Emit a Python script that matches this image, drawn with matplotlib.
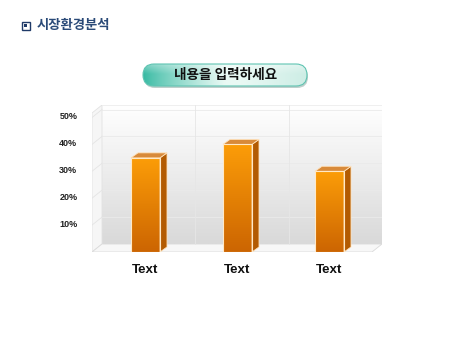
import numpy as np
import matplotlib
matplotlib.use("Agg")
import matplotlib.pyplot as plt
from matplotlib.patches import Polygon, Rectangle, FancyBboxPatch
from matplotlib.colors import to_rgb
import matplotlib.transforms as mtrans

# data
categories = ["Text", "Text", "Text"]
values = [35, 40, 30]
tick_values = [10, 20, 30, 40, 50]
tick_labels = ["10%", "20%", "30%", "40%", "50%"]
header_title = "시장환경분석"
button_label = "내용을 입력하세요"

W, H = 450, 338
fig = plt.figure(figsize=(4.5, 3.38), dpi=100)
fig.patch.set_facecolor("white")

# decoration layer in pixel units
bg = fig.add_axes([0, 0, 1, 1])
bg.set_xlim(0, W)
bg.set_ylim(H, 0)
bg.axis("off")

# header
bg.add_patch(Rectangle((22, 22), 7.5, 7.5, fc="white", ec="#1F3A68", lw=1.0))
bg.add_patch(Rectangle((24.2, 24.2), 3.2, 3.2, fc="#1F3A68", ec="none"))
bg.text(37, 25.5, header_title, fontsize=9.6, fontweight="bold", color="#2A4A78",
        va="center", ha="left", family=["Noto Sans CJK KR", "DejaVu Sans"])

# pill button
px0, px1, py0, py1 = 143, 307, 64, 86
shadow = FancyBboxPatch((px0 + 1, py0 + 2), px1 - px0, py1 - py0,
                        boxstyle="round,pad=0,rounding_size=11", fc="#BFCFCB", ec="none")
bg.add_patch(shadow)
pill = FancyBboxPatch((px0, py0), px1 - px0, py1 - py0,
                      boxstyle="round,pad=0,rounding_size=11", fc="none", ec="#5FC4B2", lw=0.8)
bg.add_patch(pill)
t = np.linspace(0, 1, 200)[None, :]
s = np.linspace(0, 1, 40)[:, None]
c_left = np.array(to_rgb("#35B9A2"))
c_mid = np.array(to_rgb("#E9F9F4"))
c_right = np.array(to_rgb("#CDEDE5"))
hmix = np.clip(t / 0.5, 0, 1) ** 0.8
rmix = np.clip((t - 0.6) / 0.4, 0, 1)
img = c_left * (1 - hmix[..., None]) + c_mid * hmix[..., None]
img = img * (1 - rmix[..., None]) + c_right * rmix[..., None]
img = np.repeat(img, 40, axis=0)
sheen = (np.clip(1 - s / 0.45, 0, 1) * 0.35)[..., None]
img = img * (1 - sheen) + sheen
im = bg.imshow(img, extent=[px0, px1, py1, py0], aspect="auto", origin="upper", zorder=1)
im.set_clip_path(pill)
pill.set_zorder(2)
bg.text((px0 + px1) / 2 + 1, 75.5, button_label, fontsize=9.8, fontweight="bold", color="#111111",
        ha="center", va="center", family=["Noto Sans CJK KR", "DejaVu Sans"], zorder=3)

# chart axes
ax = fig.add_axes([92 / W, (H - 252) / H, 290 / W, 147 / H])
px_x = 1 / 92.0
px_y = 1 / 2.69
x0 = -(145.5 - 92) * px_x
x1 = x0 + 290 * px_x
ytop = 147 * px_y

xb0 = x0 + 10 * px_x
yb0 = 8 * px_y

# back wall gradient
wall = np.linspace(0, 1, 100)[:, None]
top_c = np.array(to_rgb("#FFFFFF"))
bot_c = np.array(to_rgb("#D9D9D9"))
wimg = top_c * (1 - wall[..., None]) + bot_c * wall[..., None]
wimg = np.repeat(wimg, 2, axis=1)
ax.imshow(wimg, extent=[xb0, x1, yb0, ytop], aspect="auto", origin="upper", zorder=0)

# left wall and floor
ax.add_patch(Polygon([(x0, 0), (xb0, yb0), (xb0, ytop), (x0, ytop - yb0)],
                     fc="#F6F6F6", ec="#E2E2E2", lw=0.6, zorder=1))
ax.add_patch(Polygon([(x0, 0), (xb0, yb0), (x1, yb0), (x1 - 10 * px_x, 0)],
                     fc="#F7F7F7", ec="#DADADA", lw=0.6, zorder=1))
ax.plot([xb0, x1, x1], [ytop, ytop, yb0], color="#ECECEC", lw=0.6, zorder=1)

# grid lines
for v in tick_values:
    ax.plot([xb0, x1], [v + yb0, v + yb0], color="#EAEAEA", lw=0.6, zorder=1)
    ax.plot([x0, xb0], [v, v + yb0], color="#E4E4E4", lw=0.6, zorder=1)
for k in (1, 2):
    xv = xb0 + k * (x1 - xb0) / 3
    ax.plot([xv, xv], [yb0, ytop], color="#E6E6E6", lw=0.6, zorder=1)

# bars
bw = 29 * px_x
ddx, ddy = 7 * px_x, 5 * px_y
g = np.linspace(0, 1, 100)[:, None]
btop = np.array(to_rgb("#FC9D08"))
bbot = np.array(to_rgb("#CC6502"))
bimg = np.repeat(btop * (1 - g[..., None]) + bbot * g[..., None], 2, axis=1)
for i, v in enumerate(values):
    xl, xr = i - bw / 2, i + bw / 2
    ax.imshow(bimg, extent=[xl, xr, 0, v], aspect="auto", origin="upper", zorder=3)
    ax.add_patch(Rectangle((xl, 0), bw, v, fc="none", ec="#FFE9C8", lw=0.8, zorder=4))
    ax.add_patch(Polygon([(xr, 0), (xr + ddx, ddy), (xr + ddx, v + ddy), (xr, v)],
                         fc="#B35B02", ec="#FFE2BC", lw=0.6, zorder=3))
    ax.add_patch(Polygon([(xl, v), (xl + ddx, v + ddy), (xr + ddx, v + ddy), (xr, v)],
                         fc="#D88A3A", ec="#FFE2BC", lw=0.6, zorder=3))

ax.set_xlim(x0, x1)
ax.set_ylim(0, ytop)
ax.set_facecolor("none")
for sp in ax.spines.values():
    sp.set_visible(False)
ax.set_xticks(range(len(categories)))
ax.set_xticklabels(categories, fontsize=9.6, fontweight="bold", color="#111111",
                   family=["Liberation Sans Narrow", "Liberation Sans"])
ax.set_yticks(tick_values)
ax.set_yticklabels(tick_labels, fontsize=6.5, fontweight="bold", color="#222222",
                   family="Liberation Sans")
ax.tick_params(axis="both", length=0)
ax.tick_params(axis="x", pad=8.5)
ax.tick_params(axis="y", pad=10.5)
off = mtrans.ScaledTranslation(0, 2 / 100, fig.dpi_scale_trans)
for lab in ax.get_yticklabels():
    lab.set_transform(lab.get_transform() + off)

fig.savefig("out.png", dpi=100)
